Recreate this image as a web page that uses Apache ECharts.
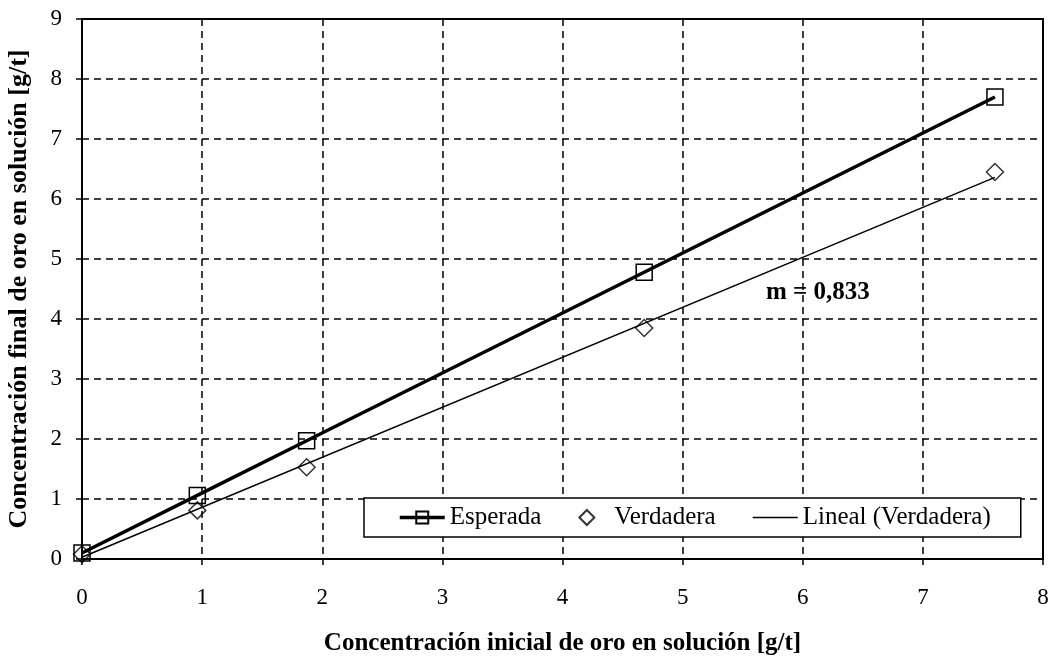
<!DOCTYPE html>
<html>
<head>
<meta charset="utf-8">
<script src="https://cdn.jsdelivr.net/npm/echarts@6/dist/echarts.min.js"></script>
<style>html,body{margin:0;padding:0;background:#fff;}#c{width:1049px;height:656px;}</style>
</head>
<body>
<div id="c"></div>
<script>
// Data
const xValues = [0, 0.96, 1.87, 4.68, 7.6];
const esperada = [0.1, 1.06, 1.97, 4.78, 7.7];
const verdadera = [0.08, 0.81, 1.53, 3.85, 6.45];
const trendX = [0, 7.6];
const trendY = [0.03, 6.36];
const seriesNames = ['Esperada', 'Verdadera', 'Lineal (Verdadera)'];
const xTitle = 'Concentración inicial de oro en solución [g/t]';
const yTitle = 'Concentración final de oro en solución [g/t]';
const slopeLabel = 'm = 0,833';

const FONT = '"Liberation Serif", "Times New Roman", serif';
const chart = echarts.init(document.getElementById('c'), null, {renderer: 'canvas'});

const zip = (xs, ys) => xs.map((x, i) => [x, ys[i]]);

chart.setOption({
  animation: false,
  backgroundColor: '#fff',
  grid: {left: 82, right: 6, top: 19, bottom: 97, containLabel: false, outerBoundsMode: 'none',
         show: true, borderColor: '#000', borderWidth: 2, backgroundColor: 'transparent'},
  xAxis: {
    type: 'value', min: 0, max: 8, interval: 1,
    name: xTitle, nameLocation: 'middle', nameGap: 72,
    nameTextStyle: {fontFamily: FONT, fontWeight: 'bold', fontSize: 25, color: '#000'},
    axisLine: {show: true, onZero: false, lineStyle: {color: '#000', width: 2}},
    axisTick: {show: true, length: 6, lineStyle: {color: '#000', width: 1.5}},
    axisLabel: {fontFamily: FONT, fontSize: 23, color: '#000', margin: 27},
    splitLine: {show: true, lineStyle: {color: '#000', width: 1.5, type: [7, 5]}}
  },
  yAxis: {
    type: 'value', min: 0, max: 9, interval: 1,
    name: yTitle, nameLocation: 'middle', nameGap: 50, nameRotate: 90,
    nameTextStyle: {fontFamily: FONT, fontWeight: 'bold', fontSize: 26, color: '#000'},
    axisLine: {show: true, onZero: false, lineStyle: {color: '#000', width: 2}},
    axisTick: {show: true, length: 6, lineStyle: {color: '#000', width: 1.5}},
    axisLabel: {fontFamily: FONT, fontSize: 23, color: '#000', margin: 20},
    splitLine: {show: true, lineStyle: {color: '#000', width: 1.5, type: [7, 5]}}
  },
  legend: {
    left: 364, top: 498,
    orient: 'horizontal',
    data: [
      {name: seriesNames[0], lineStyle: {width: 3.5, color: '#000'}},
      {name: seriesNames[1], icon: 'path://M7,0 L14,7 L7,14 L0,7 Z'},
      {name: seriesNames[2], icon: 'path://M0,0 L45,0 L45,1.5 L0,1.5 Z', itemStyle: {color: '#000', borderWidth: 0}}
    ],
    itemWidth: 45, itemHeight: 15, itemGap: 37,
    padding: [7, 30, 7, 34],
    borderColor: '#000', borderWidth: 1.5,
    backgroundColor: '#fff',
    textStyle: {fontFamily: FONT, fontSize: 25, color: '#000'}
  },
  series: [
    {
      name: seriesNames[0], type: 'line', data: zip(xValues, esperada),
      symbol: 'rect', symbolSize: 16, showAllSymbol: true,
      lineStyle: {color: '#000', width: 3.5},
      itemStyle: {color: 'rgba(0,0,0,0)', borderColor: '#000', borderWidth: 1.5},
      z: 5
    },
    {
      name: seriesNames[1], type: 'scatter', data: zip(xValues, verdadera),
      symbol: 'diamond', symbolSize: 17,
      itemStyle: {color: 'rgba(0,0,0,0)', borderColor: '#000', borderWidth: 1.5},
      z: 4
    },
    {
      name: seriesNames[2], type: 'line', data: zip(trendX, trendY),
      symbol: 'none',
      lineStyle: {color: '#000', width: 1.5},
      itemStyle: {color: '#000'},
      z: 3
    }
  ],
  graphic: [{
    type: 'text', left: 766, top: 280, z: 10,
    style: {text: slopeLabel, font: 'bold 25px ' + FONT, fill: '#000'}
  }]
});
</script>
</body>
</html>
